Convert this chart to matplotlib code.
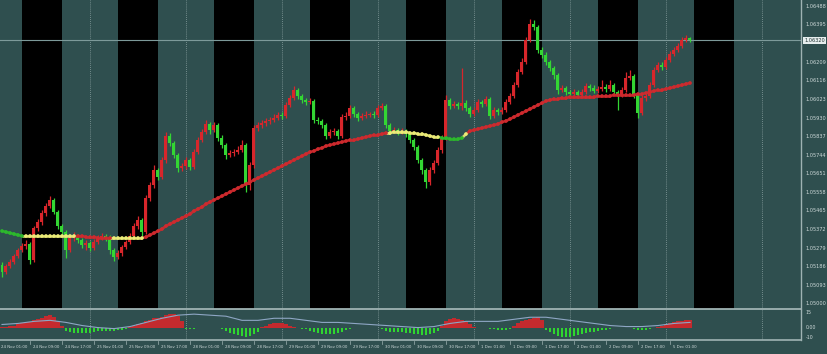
import numpy as np
import matplotlib
matplotlib.use("Agg")
import matplotlib.pyplot as plt
from matplotlib.collections import LineCollection
from matplotlib import transforms

# ---------------- data ----------------
days = ["24 Nov", "25 Nov", "28 Nov", "29 Nov", "30 Nov", "1 Dec", "2 Dec", "5 Dec"]
first_hour = 2            # hour of the first bar (H1 bars)
session_hours = (7, 17)   # highlighted session (black bands)

opens = [1.05195,1.05160,1.05190,1.05210,1.05240,1.05270,1.05290,1.05300,1.05220,1.05380,
 1.05410,1.05455,1.05490,1.05520,1.05460,1.05390,1.05360,1.05270,1.05330,1.05340,
 1.05320,1.05295,1.05305,1.05280,1.05310,1.05330,1.05340,1.05330,1.05270,1.05235,
 1.05255,1.05285,1.05310,1.05340,1.05390,1.05420,1.05360,1.05530,1.05595,1.05670,
 1.05635,1.05720,1.05840,1.05805,1.05745,1.05680,1.05690,1.05720,1.05685,1.05760,
 1.05820,1.05860,1.05900,1.05870,1.05895,1.05830,1.05795,1.05745,1.05755,1.05760,
 1.05770,1.05795,1.05595,1.05695,1.05880,1.05895,1.05905,1.05915,1.05920,1.05930,
 1.05945,1.05940,1.05995,1.06030,1.06070,1.06040,1.06020,1.06010,1.06015,1.05920,
 1.05915,1.05895,1.05840,1.05860,1.05865,1.05840,1.05935,1.05940,1.05980,1.05950,
 1.05930,1.05940,1.05945,1.05950,1.05945,1.05980,1.05990,1.05895,1.05865,1.05870,
 1.05860,1.05865,1.05850,1.05820,1.05785,1.05720,1.05670,1.05610,1.05670,1.05705,
 1.05770,1.05830,1.06020,1.05990,1.06000,1.05990,1.06005,1.05980,1.05950,1.05970,
 1.06010,1.06000,1.06025,1.05940,1.05970,1.05960,1.05970,1.06010,1.06040,1.06095,
 1.06160,1.06210,1.06320,1.06400,1.06385,1.06270,1.06245,1.06210,1.06180,1.06145,
 1.06070,1.06080,1.06060,1.06050,1.06060,1.06045,1.06060,1.06090,1.06080,1.06065,
 1.06075,1.06085,1.06075,1.06095,1.06060,1.06045,1.06070,1.06130,1.06140,1.06045,
 1.05955,1.06030,1.06040,1.06095,1.06170,1.06195,1.06185,1.06220,1.06250,1.06270,
 1.06290,1.06320,1.06330]

highs = [1.05210,1.05200,1.05225,1.05250,1.05280,1.05305,1.05320,1.05310,1.05390,1.05425,
 1.05470,1.05505,1.05540,1.05530,1.05470,1.05400,1.05370,1.05345,1.05360,1.05350,
 1.05330,1.05320,1.05315,1.05325,1.05345,1.05355,1.05350,1.05345,1.05280,1.05270,
 1.05295,1.05320,1.05355,1.05405,1.05440,1.05430,1.05545,1.05610,1.05695,1.05680,
 1.05735,1.05860,1.05855,1.05815,1.05755,1.05705,1.05735,1.05730,1.05775,1.05835,
 1.05875,1.05920,1.05910,1.05910,1.05905,1.05845,1.05805,1.05770,1.05775,1.05790,
 1.05820,1.05805,1.05710,1.05895,1.05910,1.05920,1.05930,1.05935,1.05950,1.05960,
 1.05960,1.06010,1.06045,1.06090,1.06080,1.06050,1.06030,1.06030,1.06025,1.05935,
 1.05925,1.05905,1.05875,1.05880,1.05875,1.05950,1.05960,1.05995,1.05990,1.05960,
 1.05955,1.05965,1.05960,1.05965,1.05995,1.06005,1.06000,1.05905,1.05885,1.05880,
 1.05880,1.05875,1.05860,1.05830,1.05795,1.05730,1.05680,1.05685,1.05720,1.05785,
 1.05845,1.06045,1.06030,1.06015,1.06010,1.06180,1.06020,1.05990,1.05985,1.06025,
 1.06020,1.06040,1.06035,1.05985,1.05980,1.05985,1.06025,1.06055,1.06110,1.06175,
 1.06230,1.06335,1.06425,1.06420,1.06395,1.06285,1.06260,1.06220,1.06190,1.06155,
 1.06095,1.06090,1.06070,1.06075,1.06070,1.06075,1.06105,1.06100,1.06095,1.06090,
 1.06120,1.06100,1.06120,1.06105,1.06070,1.06085,1.06160,1.06170,1.06150,1.06055,
 1.06045,1.06055,1.06110,1.06185,1.06210,1.06210,1.06235,1.06265,1.06285,1.06305,
 1.06335,1.06345,1.06335]

lows = [1.05135,1.05150,1.05180,1.05200,1.05230,1.05260,1.05275,1.05200,1.05210,1.05365,
 1.05395,1.05440,1.05480,1.05450,1.05375,1.05340,1.05230,1.05260,1.05315,1.05305,
 1.05280,1.05270,1.05265,1.05270,1.05300,1.05320,1.05315,1.05250,1.05215,1.05225,
 1.05240,1.05275,1.05300,1.05330,1.05375,1.05340,1.05350,1.05515,1.05580,1.05620,
 1.05625,1.05705,1.05790,1.05730,1.05660,1.05665,1.05675,1.05670,1.05675,1.05750,
 1.05810,1.05850,1.05850,1.05860,1.05815,1.05780,1.05725,1.05735,1.05740,1.05750,
 1.05760,1.05560,1.05570,1.05680,1.05865,1.05880,1.05890,1.05900,1.05910,1.05920,
 1.05925,1.05930,1.05985,1.06020,1.06025,1.06005,1.05995,1.06000,1.05905,1.05900,
 1.05880,1.05825,1.05830,1.05845,1.05825,1.05830,1.05920,1.05930,1.05935,1.05915,
 1.05920,1.05930,1.05935,1.05930,1.05935,1.05970,1.05880,1.05850,1.05855,1.05845,
 1.05850,1.05835,1.05805,1.05770,1.05705,1.05650,1.05580,1.05595,1.05655,1.05695,
 1.05755,1.05820,1.05975,1.05980,1.05975,1.05970,1.05965,1.05935,1.05940,1.05960,
 1.05985,1.05990,1.05925,1.05930,1.05945,1.05950,1.05960,1.06000,1.06030,1.06085,
 1.06150,1.06200,1.06310,1.06370,1.06255,1.06230,1.06195,1.06165,1.06125,1.06050,
 1.06060,1.06045,1.06035,1.06040,1.06030,1.06035,1.06050,1.06065,1.06055,1.06055,
 1.06065,1.06060,1.06065,1.06045,1.05970,1.06035,1.06060,1.06120,1.06030,1.05930,
 1.05945,1.06015,1.06030,1.06085,1.06160,1.06170,1.06175,1.06210,1.06240,1.06260,
 1.06280,1.06310,1.06310]

closes = [1.05160,1.05190,1.05210,1.05240,1.05270,1.05290,1.05300,1.05220,1.05380,1.05410,
 1.05455,1.05490,1.05520,1.05460,1.05390,1.05360,1.05270,1.05330,1.05340,1.05320,
 1.05295,1.05305,1.05280,1.05310,1.05330,1.05340,1.05330,1.05270,1.05235,1.05255,
 1.05285,1.05310,1.05340,1.05390,1.05420,1.05360,1.05530,1.05595,1.05670,1.05635,
 1.05720,1.05840,1.05805,1.05745,1.05680,1.05690,1.05720,1.05685,1.05760,1.05820,
 1.05860,1.05900,1.05870,1.05895,1.05830,1.05795,1.05745,1.05755,1.05760,1.05770,
 1.05795,1.05595,1.05695,1.05880,1.05895,1.05905,1.05915,1.05920,1.05930,1.05945,
 1.05940,1.05995,1.06030,1.06070,1.06040,1.06020,1.06010,1.06015,1.05920,1.05915,
 1.05895,1.05840,1.05860,1.05865,1.05840,1.05935,1.05940,1.05980,1.05950,1.05930,
 1.05940,1.05945,1.05950,1.05945,1.05980,1.05990,1.05895,1.05865,1.05870,1.05860,
 1.05865,1.05850,1.05820,1.05785,1.05720,1.05670,1.05610,1.05670,1.05705,1.05770,
 1.05830,1.06020,1.05990,1.06000,1.05990,1.06005,1.05980,1.05950,1.05970,1.06010,
 1.06000,1.06025,1.05940,1.05970,1.05960,1.05970,1.06010,1.06040,1.06095,1.06160,
 1.06210,1.06320,1.06400,1.06385,1.06270,1.06245,1.06210,1.06180,1.06145,1.06070,
 1.06080,1.06060,1.06050,1.06060,1.06045,1.06060,1.06090,1.06080,1.06065,1.06075,
 1.06085,1.06075,1.06095,1.06060,1.06045,1.06070,1.06130,1.06140,1.06045,1.05955,
 1.06030,1.06040,1.06095,1.06170,1.06195,1.06185,1.06220,1.06250,1.06270,1.06290,
 1.06320,1.06330,1.06320]

ma = [1.05365,1.05360,1.05355,1.05350,1.05345,1.05340,
 1.05340,1.05340,1.05340,1.05340,1.05340,1.05340,1.05340,1.05340,1.05340,1.05340,1.05340,1.05340,1.05340,
 1.05340,1.05340,1.05335,1.05335,1.05335,1.05330,1.05330,1.05330,1.05330,
 1.05330,1.05330,1.05330,1.05330,1.05330,1.05330,1.05330,1.05330,
 1.05335,1.05345,1.05355,1.05365,1.05375,1.05390,1.05400,1.05410,1.05420,1.05430,
 1.05440,1.05450,1.05465,1.05475,1.05485,1.05500,1.05510,1.05520,1.05530,1.05540,
 1.05550,1.05560,1.05570,1.05580,1.05590,1.05600,1.05610,1.05620,1.05630,1.05640,
 1.05650,1.05660,1.05670,1.05680,1.05690,1.05700,1.05710,1.05720,1.05730,1.05740,
 1.05750,1.05760,1.05765,1.05775,1.05780,1.05790,1.05795,1.05800,1.05805,1.05810,
 1.05815,1.05820,1.05820,1.05825,1.05830,1.05835,1.05840,1.05845,1.05845,1.05850,1.05855,
 1.05855,1.05860,1.05860,1.05860,1.05860,1.05855,1.05855,1.05850,1.05850,1.05845,1.05840,1.05835,1.05835,
 1.05830,1.05830,1.05825,1.05825,1.05825,1.05830,
 1.05850,
 1.05865,1.05870,1.05875,1.05880,1.05885,1.05890,1.05895,1.05900,1.05910,1.05915,
 1.05925,1.05935,1.05945,1.05955,1.05965,1.05975,1.05985,1.05995,1.06005,1.06015,
 1.06020,1.06025,1.06025,1.06030,1.06030,1.06035,1.06035,1.06035,1.06035,1.06035,
 1.06035,1.06035,1.06040,1.06040,1.06040,1.06040,1.06045,1.06045,1.06045,1.06045,
 1.06045,1.06045,1.06050,1.06050,1.06055,1.06060,1.06065,1.06070,1.06070,1.06075,
 1.06080,1.06085,1.06090,1.06095,1.06100,1.06105]

# trend state of the moving average (run lengths)
ma_trend = [("down", 6), ("flat", 13), ("up", 9), ("flat", 8), ("up", 61),
            ("flat", 13), ("down", 6), ("flat", 1), ("up", 56)]

# lower oscillator histogram (one value per bar)
hist = [1,1,2, 2,3,4,5,5,7,8,9,11,12,10,6,2,
 -3,-4,-5,-5,-5,-5,-5,-4,-3,-3,-3,-3,-3,-2,-2,-1,
 1,2,3,4,6,7,9,9,10,12,13,13,11,6,
 -1,-1,-1,0,0,0,0,0,0,-1,
 -3,-5,-6,-7,-8,-9,-8,-6,-4,
 1,2,3,4,4,4,3,2,
 1,0,-1,-1,
 -3,-4,-5,-6,-6,-6,-6,-5,-4,-2,
 -1,0,0,0,0,0,0,0,-1,
 -3,-4,-4,-4,-4,-5,-5,-6,-6,-7,-7,-6,-5,-3,
 2,6,8,9,8,7,5,3,
 1,0,0,0,-1,-1,
 -2,-2,-2,-1,
 2,4,6,7,8,9,10,7,
 -2,-4,-6,-8,-9,-9,-9,-8,-7,-6,-5,-4,-4,-3,-2,-2,
 -1,0,0,0,0,0,-1,
 -2,-2,-2,-1,0,
 1,2,3,4,5,6,6,7,7]

# oscillator signal line, one value every 4 bars
signal_step = 4
signal = [3,4,6,7,5,2,0,-1,1,5,9,12,13,12,11,7,7,9,9,7,5,5,4,3,2,1,0,1,
          4,6,6,6,8,10,10,8,6,4,2,1,1,2,4,5]

price_ticks = [1.05000,1.05093,1.05186,1.05279,1.05372,1.05465,1.05558,1.05651,1.05744,
               1.05837,1.05930,1.06023,1.06116,1.06209,1.06302,1.06395,1.06488]
osc_labels = [(15, "15"), (0, "0.00"), (-10, "-10")]

# ---------------- styles ----------------
BG = "#2f4f4f"
SESSION = "#000000"
UP = "#d8262b"
DOWN = "#33d633"
MA_COL = {"up": "#cf2a2e", "down": "#2cb82c", "flat": "#ecec78"}
TXT = "#cfdada"
FRAME = "#9fb3b3"

W, H = 828, 354
fig = plt.figure(figsize=(W / 100, H / 100), dpi=100, facecolor=BG)
right_px = 801
ax = fig.add_axes([0, (H - 309) / H, right_px / W, 309 / H])
ax2 = fig.add_axes([0, (H - 340) / H, right_px / W, 30 / H])

n = len(closes)
xs = np.arange(n)
xlim = (-0.5, (right_px - 2) / 4)
for a in (ax, ax2):
    a.set_facecolor(BG)
    a.set_xlim(*xlim)
    a.set_xticks([])
    a.set_yticks([])
    for s in a.spines.values():
        s.set_visible(False)

# session bands and day separators
for d in range(len(days)):
    s0 = 24 * d + session_hours[0] - first_hour
    s1 = 24 * d + session_hours[1] - first_hour
    ax.axvspan(s0, s1, color=SESSION, lw=0, zorder=0)
for d in range(1, len(days) + 1):
    xd = 24 * d - first_hour
    for a in (ax, ax2):
        a.axvline(xd, color="#a9bcbc", lw=0.6, ls=(0, (1, 1.5)), alpha=0.75, zorder=1)

# price scale
ax.set_ylim(1.04975, 1.06520)
bid = closes[-1]
ax.axhline(bid, color="#7d9a9a", lw=0.8, zorder=1)

# candles
o = np.array(opens); h = np.array(highs); l = np.array(lows); c = np.array(closes)
cols = np.where(c >= o, UP, DOWN)
ax.vlines(xs, l, h, colors=cols, lw=0.9, zorder=3)
body_bottom = np.minimum(o, c)
body_h = np.maximum(np.abs(c - o), 0.00002)
ax.bar(xs, body_h, bottom=body_bottom, width=0.75, color=cols, lw=0, zorder=4)

# moving average
states = []
for st, cnt in ma_trend:
    states += [st] * cnt
mav = np.array(ma)
segs = [[(xs[i - 1], mav[i - 1]), (xs[i], mav[i])] for i in range(1, n)]
seg_cols = [MA_COL[states[i]] for i in range(1, n)]
ax.add_collection(LineCollection(segs, colors=seg_cols, linewidths=1.9, zorder=5, alpha=0.9))
ax.scatter(xs, mav, s=7, c=[MA_COL[s] for s in states], lw=0, zorder=6)

# price axis labels
ytr = ax.get_yaxis_transform()
for p in price_ticks:
    if abs(p - bid) < 0.0005:
        continue
    ax.text(1.006, p, f"{p:.5f}", transform=ytr, fontsize=3.6, color=TXT,
            va="center", ha="left", clip_on=False)
ax.text(1.004, bid, f"{bid:.5f}", transform=ytr, fontsize=3.6, color="#1d3030",
        va="center", ha="left", clip_on=False,
        bbox=dict(boxstyle="square,pad=0.2", fc="#e6eeee", ec="none"))

# frame lines
ax.axhline(1.04975, color=FRAME, lw=1.3, zorder=7, clip_on=False)
ax.axvline(xlim[1], color=FRAME, lw=1.0, zorder=7, clip_on=False)
ax2.axvline(xlim[1], color=FRAME, lw=1.0, zorder=7, clip_on=False)

# oscillator panel
ax2.set_ylim(-12, 17)
hv = np.array(hist)
pos = np.where(hv > 0, hv, 0)
neg = np.where(hv < 0, hv, 0)
ax2.bar(xs, pos, width=0.95, color="#c42a2e", lw=0, zorder=3)
ax2.bar(xs, neg, width=0.55, color="#2fd62f", lw=0, zorder=3)
sx = np.arange(len(signal)) * signal_step
ax2.plot(sx, signal, color="#8ea6c4", lw=0.8, zorder=4)
ax2.axhline(-12, color=FRAME, lw=1.2, zorder=7, clip_on=False)
ytr2 = ax2.get_yaxis_transform()
for v, t in osc_labels:
    ax2.text(1.006, v, t, transform=ytr2, fontsize=3.4, color=TXT,
             va="center", ha="left", clip_on=False)

# time labels
trb = transforms.blended_transform_factory(ax2.transData, ax2.transAxes)
for i in range(-1, n):
    tot = i + first_hour
    d, hr = tot // 24, tot % 24
    if hr % 8 == 1:
        ax2.text(i + 0.8, -0.25, f"{days[d]} {hr:02d}:00", transform=trb,
                 fontsize=2.8, color=TXT, va="center", ha="left", clip_on=False)
        ax2.plot([i, i], [-0.04, -0.12], transform=trb, color=FRAME, lw=0.5, clip_on=False)

fig.savefig("out.png", dpi=100, facecolor=BG)
